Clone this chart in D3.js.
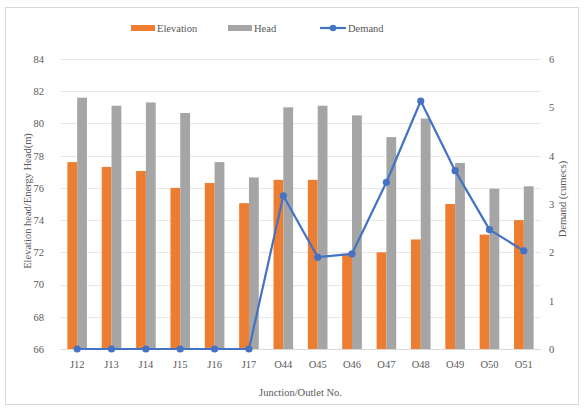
<!DOCTYPE html>
<html>
<head>
<meta charset="utf-8">
<script src="https://cdn.jsdelivr.net/npm/d3@7"></script>
<style>
  html, body { margin: 0; padding: 0; background: #fff; }
  svg text { font-family: "Liberation Serif", "Times New Roman", serif !important; }
</style>
</head>
<body>
<svg id="chart" width="585" height="410"></svg>
<script>
// Junction / outlet data
const categories = ["J12","J13","J14","J15","J16","J17","O44","O45","O46","O47","O48","O49","O50","O51"];
const elevation = [77.6, 77.3, 77.05, 76.0, 76.3, 75.05, 76.5, 76.5, 71.9, 72.0, 72.8, 75.0, 73.1, 74.0];
const head      = [81.6, 81.1, 81.3, 80.65, 77.6, 76.65, 81.0, 81.1, 80.5, 79.15, 80.3, 77.55, 75.95, 76.1];
const demand    = [0, 0, 0, 0, 0, 0, 3.17, 1.9, 1.97, 3.45, 5.13, 3.69, 2.47, 2.03];
const leftTicks  = [66, 68, 70, 72, 74, 76, 78, 80, 82, 84];
const rightTicks = [0, 1, 2, 3, 4, 5, 6];

const colors = { elevation: "#ED7D31", head: "#A5A5A5", demand: "#4472C4" };
const textColor = "#595959";
const fontSize = 10.5;

const svg = d3.select("#chart");
const margin = { left: 60, right: 44, top: 59, bottom: 61 };
const W = 585, H = 410;
const plotW = W - margin.left - margin.right;
const plotH = H - margin.top - margin.bottom;

// outer chart frame
svg.append("rect")
  .attr("x", 5.5).attr("y", 7.5).attr("width", 573).attr("height", 397)
  .attr("fill", "#fff").attr("stroke", "#D9D9D9").attr("stroke-width", 1);

const g = svg.append("g").attr("transform", `translate(${margin.left},${margin.top})`);

const x = d3.scaleBand().domain(categories).range([0, plotW]).paddingInner(0).paddingOuter(0);
const yL = d3.scaleLinear().domain([66, 84]).range([plotH, 0]);
const yR = d3.scaleLinear().domain([0, 6]).range([plotH, 0]);
const barW = 9.8;

// gridlines
g.append("g").selectAll("line").data(leftTicks).join("line")
  .attr("x1", 0).attr("x2", plotW)
  .attr("y1", d => Math.round(yL(d)) + 0.5).attr("y2", d => Math.round(yL(d)) + 0.5)
  .attr("stroke", d => d === 66 ? "#D9D9D9" : "#E8E8E8").attr("stroke-width", 1);

function styleAxis(sel) {
  sel.select(".domain").remove();
  sel.selectAll("text").attr("fill", textColor).attr("font-size", fontSize);
}

// left axis
g.append("g")
  .call(d3.axisLeft(yL).tickValues(leftTicks).tickSize(0).tickPadding(16).tickFormat(d3.format("d")))
  .call(styleAxis);

// right axis
g.append("g").attr("transform", `translate(${plotW},0)`)
  .call(d3.axisRight(yR).tickValues(rightTicks).tickSize(0).tickPadding(8).tickFormat(d3.format("d")))
  .call(styleAxis);

// bottom axis labels
g.append("g").attr("transform", `translate(0,${plotH})`)
  .call(d3.axisBottom(x).tickSize(0).tickPadding(12))
  .call(styleAxis);

// bars
g.append("g").selectAll("rect").data(categories).join("rect")
  .attr("x", d => x(d) + x.bandwidth() / 2 - barW)
  .attr("width", barW)
  .attr("y", (d, i) => yL(elevation[i]))
  .attr("height", (d, i) => plotH - yL(elevation[i]))
  .attr("fill", colors.elevation);

g.append("g").selectAll("rect").data(categories).join("rect")
  .attr("x", d => x(d) + x.bandwidth() / 2)
  .attr("width", barW)
  .attr("y", (d, i) => yL(head[i]))
  .attr("height", (d, i) => plotH - yL(head[i]))
  .attr("fill", colors.head);

// demand line
const line = d3.line()
  .x((d, i) => x(categories[i]) + x.bandwidth() / 2)
  .y(d => yR(d));
g.append("path").datum(demand)
  .attr("d", line).attr("fill", "none")
  .attr("stroke", colors.demand).attr("stroke-width", 2.2).attr("stroke-linejoin", "round");
g.append("g").selectAll("circle").data(demand).join("circle")
  .attr("cx", (d, i) => x(categories[i]) + x.bandwidth() / 2)
  .attr("cy", d => yR(d))
  .attr("r", 3.6)
  .attr("fill", colors.demand);

// axis titles
svg.append("text")
  .attr("transform", `translate(31,${margin.top + plotH / 2 - 3}) rotate(-90)`)
  .attr("text-anchor", "middle").attr("fill", textColor).attr("font-size", fontSize)
  .text("Elevation head/Energy Head(m)");
svg.append("text")
  .attr("transform", `translate(566,${margin.top + plotH / 2 - 5}) rotate(-90)`)
  .attr("text-anchor", "middle").attr("fill", textColor).attr("font-size", fontSize)
  .text("Demand (cumecs)");
svg.append("text")
  .attr("x", margin.left + plotW / 2).attr("y", 396)
  .attr("text-anchor", "middle").attr("fill", textColor).attr("font-size", fontSize)
  .text("Junction/Outlet No.");

// legend
const legend = svg.append("g").attr("transform", "translate(0,28)");
const items = [
  { name: "Elevation", type: "bar", color: colors.elevation, x: 131 },
  { name: "Head", type: "bar", color: colors.head, x: 228 },
  { name: "Demand", type: "line", color: colors.demand, x: 320 }
];
items.forEach(it => {
  if (it.type === "bar") {
    legend.append("rect").attr("x", it.x).attr("y", -3).attr("width", 24).attr("height", 6).attr("fill", it.color);
  } else {
    legend.append("line").attr("x1", it.x).attr("x2", it.x + 26).attr("y1", 0).attr("y2", 0)
      .attr("stroke", it.color).attr("stroke-width", 2.2);
    legend.append("circle").attr("cx", it.x + 13).attr("cy", 0).attr("r", 3.3).attr("fill", it.color);
  }
  legend.append("text").attr("x", it.x + (it.type === "bar" ? 26 : 28)).attr("y", 0)
    .attr("dy", "0.35em").attr("fill", textColor).attr("font-size", fontSize).text(it.name);
});
</script>
</body>
</html>
